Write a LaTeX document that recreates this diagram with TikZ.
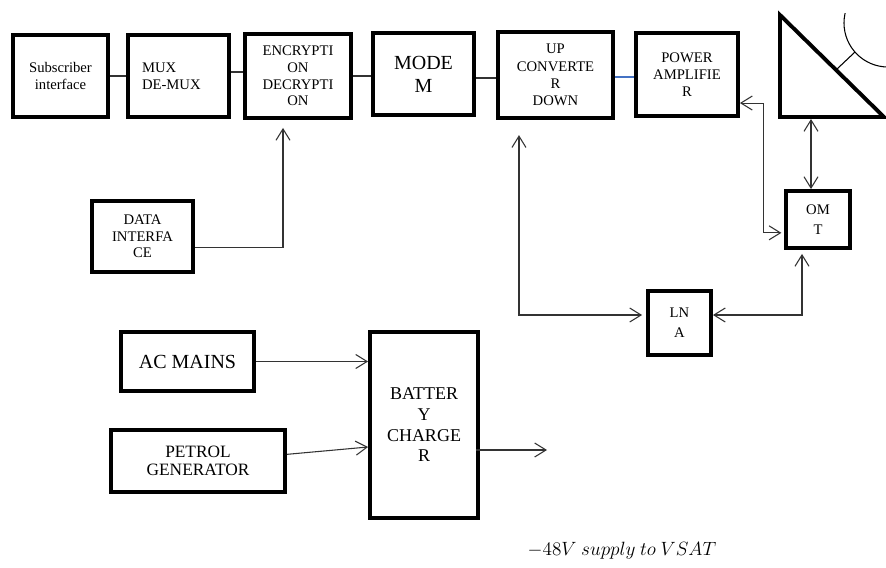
\documentclass[tikz,border=0pt]{standalone}
\usepackage{fontspec}
\setmainfont{Liberation Serif}
\usetikzlibrary{arrows.meta}
\definecolor{linkblue}{RGB}{68,114,196}
\begin{document}
\begin{tikzpicture}[x=0.75pt,y=-0.75pt,
  box/.style={draw, line width=2.9pt, inner sep=1pt, align=center, font=\fontsize{11}{12.5}\selectfont},
  sz/.style 2 args={minimum width={#1*0.75pt}, minimum height={#2*0.75pt}},
  conn/.style={draw=black!80, line width=0.8pt},
  tipend/.style={-{Straight Barb[length=8.5pt,width=10.5pt]}},
  tipboth/.style={{Straight Barb[length=8.5pt,width=10.5pt]}-{Straight Barb[length=8.5pt,width=10.5pt]}}]
\fill[white] (0,0) rectangle (886,568);
\useasboundingbox (0,0) rectangle (886,568);

% top row
\node[box, sz={95}{82}] (sub) at (60.5,76) {Subscriber\\interface};
\node[box, sz={101}{82}, align=left, text width=54.75pt, inner xsep=10.5pt] (mux) at (178.5,76) {MUX\\DE-MUX};
\node[box, sz={106}{84}] (enc) at (298,76) {ENCRYPTI\\ON\\DECRYPTI\\ON};
\node[box, sz={101}{82}, font=\fontsize{15}{17.25}\selectfont] (modem) at (423.5,74) {MODE\\M};
\node[box, sz={115}{86}, font=\fontsize{11}{13}\selectfont] (up) at (555.5,75) {UP\\CONVERTE\\R\\DOWN};
\node[box, sz={102}{83}, font=\fontsize{11}{13}\selectfont] (pa) at (687,74.5) {POWER\\AMPLIFIE\\R};

% other boxes
\node[box, sz={101}{71}] (data) at (142.5,236.5) {DATA\\INTERFA\\CE};
\node[box, sz={64}{57}, font=\fontsize{11}{15}\selectfont] (omt) at (818,219.5) {OM\\T};
\node[box, sz={63}{64}, font=\fontsize{11}{15}\selectfont] (lna) at (679.5,323) {LN\\A};
\node[box, sz={133}{59}, font=\fontsize{15}{17}\selectfont] (ac) at (187.5,361.5) {AC MAINS};
\node[box, sz={174}{62}, font=\fontsize{13}{13.5}\selectfont] (petrol) at (198,461) {PETROL\\GENERATOR};
\node[box, sz={108}{186}, font=\fontsize{13.5}{15.5}\selectfont] (batt) at (424,425) {BATTER\\Y\\CHARGE\\R};

% antenna
\draw[line width=2.9pt, line join=miter] (780,15) -- (780,117) -- (884,117) -- cycle;
\begin{scope}
  \clip (779,13) rectangle (886,120);
  \draw[line width=0.8pt] (888,23) circle[radius=33pt];
\end{scope}
\draw[line width=0.8pt] (837,69) -- (855,52);
\coordinate (antbase) at (811,119);
\coordinate (out) at (547,450);

% plain connectors
\draw[conn] (sub.east) -- (mux.west);
\draw[conn] ([yshift=3pt]mux.east) -- ([yshift=3pt]enc.west);
\draw[conn] (enc.east) -- (enc.east -| modem.west);
\draw[conn] ([yshift=-3pt]modem.east) -- ([yshift=-3pt]modem.east -| up.west);
\draw[conn, draw=linkblue] ([yshift=-1.5pt]up.east) -- ([yshift=-1.5pt]up.east -| pa.west);

% arrows
\draw[conn, tipend, shorten >=6pt] ([yshift=-8pt]data.east) -| ([xshift=-11.25pt]enc.south);
\draw[conn, tipboth, shorten <=11.4pt, shorten >=3pt] ([xshift=-27.4pt]up.south) |- ([yshift=6pt]lna.west);
\draw[conn, tipboth, shorten >=2pt] ([yshift=-21.4pt]pa.east) -- ++(24,0) |- ([yshift=-10pt]omt.west);
\draw[conn, tipboth] (antbase) -- (antbase |- omt.north);
\draw[conn, tipboth, shorten >=3pt] ([yshift=6pt]lna.east) -| ([xshift=-12pt]omt.south);
\draw[conn, tipend] (ac.east) -- (ac.east -| batt.west);
\draw[conn, tipend] ([yshift=5pt]petrol.east) -- ([yshift=-16.5pt]batt.west);
\draw[conn, tipend] ([yshift=-18.75pt,xshift=-3pt]batt.east) -- (out);

\node[font=\fontsize{14}{16}\selectfont] (supply) at (622,551) {$-48V\ supply\ to\ VSAT$};
\end{tikzpicture}
\end{document}
